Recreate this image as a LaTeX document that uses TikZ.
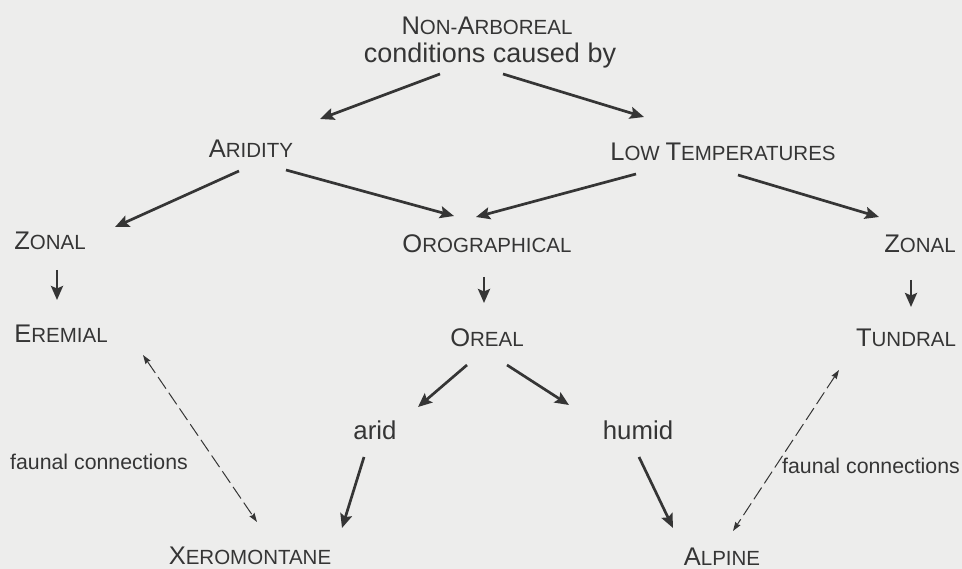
\documentclass[tikz,border=0pt]{standalone}
\usepackage{fontspec}
\setmainfont{Liberation Sans}
\usetikzlibrary{arrows.meta,calc}
\definecolor{bgc}{HTML}{EDEDEC}
\definecolor{ink}{HTML}{353535}
\newcommand{\Bg}[1]{{\fontsize{25.5}{26}\selectfont #1}}
\begin{document}
\begin{tikzpicture}[x=1pt,y=-1pt,
  lbl/.style={text=ink, inner sep=0pt, anchor=base},
  sc/.style={lbl, font=\fontsize{20.5}{24}\selectfont},
  lc/.style={lbl, font=\fontsize{25.8}{30}\selectfont},
  fc/.style={lbl, font=\fontsize{21.3}{24}\selectfont},
  arr/.style={draw=ink, line width=2.7pt, -{Stealth[length=14pt,width=12pt,inset=2.5pt]}},
  dasharr/.style={draw=ink, line width=1pt, dash pattern=on 14pt off 5pt,
    {Stealth[length=9pt,width=6pt,inset=1pt]}-{Stealth[length=9pt,width=6pt,inset=1pt]}}
]
\fill[bgc] (0,0) rectangle (962,569);
\useasboundingbox (0,0) rectangle (962,569);

% nodes
\node[sc] (na) at (487,35) {\Bg{N}ON-\Bg{A}RBOREAL};
\node[lbl, font=\fontsize{27}{30}\selectfont] (cc) at (490,63) {conditions caused by};
\node[sc] (ar) at (251,158) {\Bg{A}RIDITY};
\node[sc] (lt) at (723,161) {\Bg{L}OW \Bg{T}EMPERATURES};
\node[sc] (zl) at (50,250) {\Bg{Z}ONAL};
\node[sc] (or) at (487,253) {\Bg{O}ROGRAPHICAL};
\node[sc] (zr) at (920,253) {\Bg{Z}ONAL};
\node[sc] (er) at (61,343) {\Bg{E}REMIAL};
\node[sc] (oe) at (487,347) {\Bg{O}REAL};
\node[sc] (tu) at (906,347) {\Bg{T}UNDRAL};
\node[lc] (ad) at (375,440) {arid};
\node[lc] (hu) at (638,440) {humid};
\node[sc] (xe) at (250,564) {\Bg{X}EROMONTANE};
\node[sc] (al) at (722,565) {\Bg{A}LPINE};
\node[fc] (fl) at (99,470) {faunal connections};
\node[fc] (fr) at (871,473) {faunal connections};

% solid arrows
\draw[arr] ([shift={(-50,11)}]cc.base) -- ([shift={(69,-39)}]ar.base);
\draw[arr] ([shift={(13,11)}]cc.base) -- ([shift={(-79,-44)}]lt.base);
\draw[arr] ([shift={(-12,13)}]ar.base) -- ([shift={(65,-23)}]zl.base);
\draw[arr] ([shift={(35,12)}]ar.base) -- ([shift={(-33,-37)}]or.base);
\draw[arr] ([shift={(-87,13)}]lt.base) -- ([shift={(-11,-36)}]or.base);
\draw[arr] ([shift={(15,14)}]lt.base) -- ([shift={(-41,-36)}]zr.base);
\draw[arr] ([shift={(7,20)}]zl.base) -- ([shift={(-4,-43)}]er.base);
\draw[arr] ([shift={(-3,24)}]or.base) -- ([shift={(-3,-44)}]oe.base);
\draw[arr] ([shift={(-9,27)}]zr.base) -- ([shift={(5,-40)}]tu.base);
\draw[arr] ([shift={(-20,18)}]oe.base) -- ([shift={(43,-33)}]ad.base);
\draw[arr] ([shift={(20,18)}]oe.base) -- ([shift={(-69,-35)}]hu.base);
\draw[arr] ([shift={(-11,17)}]ad.base) -- ([shift={(92,-36)}]xe.base);
\draw[arr] ([shift={(1,17)}]hu.base) -- ([shift={(-49,-37)}]al.base);

% dashed faunal connections
\draw[dasharr] ([shift={(82,12)}]er.base) -- ([shift={(7,-42)}]xe.base);
\draw[dasharr] ([shift={(-67,23)}]tu.base) -- ([shift={(11,-34)}]al.base);
\end{tikzpicture}
\end{document}
